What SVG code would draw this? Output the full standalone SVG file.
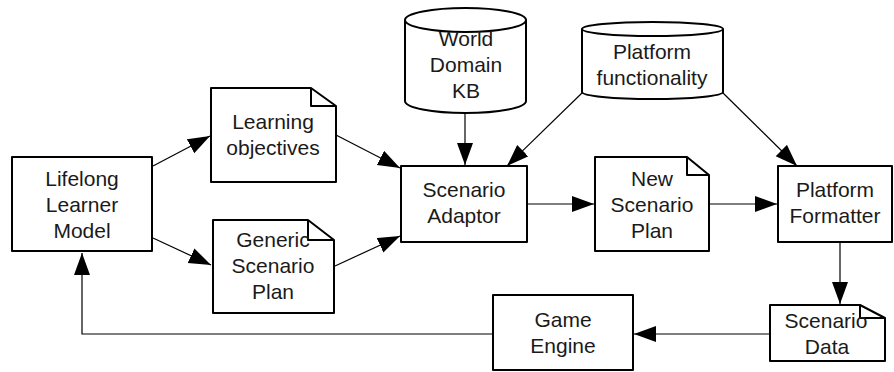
<svg xmlns="http://www.w3.org/2000/svg" width="894" height="372" viewBox="0 0 894 372">
<defs>
<style>
.n{fill:#fff;stroke:#000;stroke-width:2;stroke-linejoin:round}
.f{fill:none;stroke:#000;stroke-width:2;stroke-linejoin:round}
.c{fill:none;stroke:#000;stroke-width:1.2}
text{font-family:"Liberation Sans",Arial,Helvetica,sans-serif;font-size:21px;fill:#1a1a1a;text-anchor:middle}
</style>
<marker id="a" markerUnits="userSpaceOnUse" markerWidth="24" markerHeight="18" refX="22" refY="8" orient="auto" viewBox="0 0 24 18">
<path d="M0,0 L22,8 L0,16 Z" fill="#000"/>
</marker>
</defs>
<rect width="894" height="372" fill="#fff"/>
<g id="connectors">
<line class="c" x1="153" y1="166" x2="210" y2="136" marker-end="url(#a)"/>
<line class="c" x1="153" y1="238" x2="211" y2="265" marker-end="url(#a)"/>
<line class="c" x1="336" y1="135" x2="400" y2="168" marker-end="url(#a)"/>
<line class="c" x1="335" y1="266" x2="400" y2="236" marker-end="url(#a)"/>
<line class="c" x1="465" y1="113" x2="465" y2="165" marker-end="url(#a)"/>
<line class="c" x1="583" y1="92" x2="507" y2="166" marker-end="url(#a)"/>
<line class="c" x1="722" y1="92" x2="797" y2="166" marker-end="url(#a)"/>
<line class="c" x1="527" y1="204" x2="594" y2="204" marker-end="url(#a)"/>
<line class="c" x1="709" y1="204" x2="777" y2="204" marker-end="url(#a)"/>
<line class="c" x1="840" y1="242" x2="840" y2="304" marker-end="url(#a)"/>
<line class="c" x1="770" y1="334" x2="634" y2="334" marker-end="url(#a)"/>
<path class="c" d="M492,334 H82 V253" marker-end="url(#a)"/>
</g>
<g id="lifelong">
<rect class="n" x="12" y="157" width="140" height="94"/>
<text x="82" y="186">Lifelong</text>
<text x="82" y="212">Learner</text>
<text x="82" y="238">Model</text>
</g>
<g id="learning-objectives">
<path class="n" d="M211,88 H311 L336,106 V182 H211 Z"/>
<path class="f" d="M311,88 V106 H336"/>
<text x="273" y="129">Learning</text>
<text x="273" y="155">objectives</text>
</g>
<g id="generic-scenario-plan">
<path class="n" d="M213,220 H308 L334,240 V313 H213 Z"/>
<path class="f" d="M308,220 V240 H334"/>
<text x="273" y="247">Generic</text>
<text x="273" y="273">Scenario</text>
<text x="273" y="299">Plan</text>
</g>
<g id="world-domain-kb">
<path class="n" d="M405,20 V101 A60.5,12 0 0 0 526,101 V20"/>
<ellipse class="n" cx="465.5" cy="20" rx="60.5" ry="12"/>
<text x="466" y="46">World</text>
<text x="466" y="72">Domain</text>
<text x="466" y="98">KB</text>
</g>
<g id="platform-functionality">
<path class="n" d="M582,29 V92 A70.5,7 0 0 0 723,92 V29"/>
<ellipse class="n" cx="652.5" cy="29" rx="70.5" ry="7"/>
<text x="652" y="59">Platform</text>
<text x="652" y="85">functionality</text>
</g>
<g id="scenario-adaptor">
<rect class="n" x="401" y="166" width="126" height="76"/>
<text x="464" y="197">Scenario</text>
<text x="464" y="223">Adaptor</text>
</g>
<g id="new-scenario-plan">
<path class="n" d="M595,157 H687 L709,175 V251 H595 Z"/>
<path class="f" d="M687,157 V175 H709"/>
<text x="652" y="186">New</text>
<text x="652" y="212">Scenario</text>
<text x="652" y="238">Plan</text>
</g>
<g id="platform-formatter">
<rect class="n" x="778" y="166" width="114" height="76"/>
<text x="835" y="197">Platform</text>
<text x="835" y="223">Formatter</text>
</g>
<g id="scenario-data">
<path class="n" d="M770,305 H860 L885,318 V361 H770 Z"/>
<path class="f" d="M860,305 V318 H885"/>
<text x="826" y="328">Scenario</text>
<text x="827" y="354">Data</text>
</g>
<g id="game-engine">
<rect class="n" x="493" y="295" width="140" height="75"/>
<text x="563" y="327">Game</text>
<text x="563" y="353">Engine</text>
</g>
</svg>
